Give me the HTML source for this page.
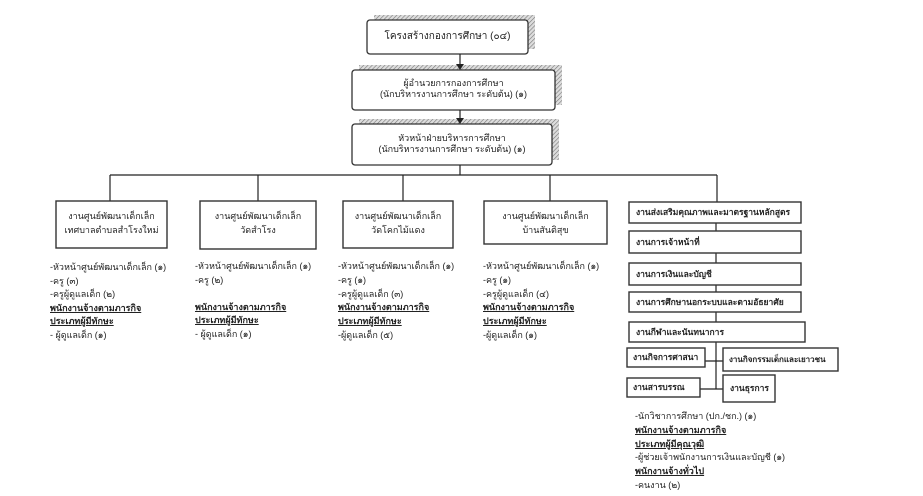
<!DOCTYPE html>
<html><head><meta charset="utf-8"><style>
body{margin:0;background:#fff;}
#c{position:relative;width:923px;height:496px;overflow:hidden;background:#fff;font-family:"Liberation Sans","Noto Sans CJK SC",sans-serif;color:#222;}
.t{position:absolute;font-size:9px;line-height:11px;white-space:nowrap;}
.c{text-align:center;}
.b{font-weight:bold;text-decoration:underline;}
.r{font-weight:bold;font-size:8.5px;}
svg{position:absolute;left:0;top:0;}
</style></head><body><div id="c">
<svg width="923" height="496">
<defs><pattern id="h" width="3" height="3" patternUnits="userSpaceOnUse" patternTransform="rotate(45)"><rect width="3" height="3" fill="#ddd"/><line x1="0" y1="0" x2="0" y2="3" stroke="#777" stroke-width="1.2"/></pattern></defs>
<g fill="url(#h)">
<rect x="374" y="15" width="161" height="34"/>
<rect x="359" y="65" width="203" height="40"/>
<rect x="359" y="119" width="200" height="41"/>
</g>
<g fill="#fff" stroke="#333" stroke-width="1.3">
<rect x="367" y="20" width="161" height="34" rx="3"/>
<rect x="352" y="70" width="203" height="40" rx="3"/>
<rect x="352" y="124" width="200" height="41" rx="3"/>
</g>
<g stroke="#222" stroke-width="1.2" fill="none">
<line x1="460" y1="54" x2="460" y2="66"/>
<line x1="460" y1="110" x2="460" y2="120"/>
<line x1="460" y1="165" x2="460" y2="175"/>
<line x1="110" y1="175" x2="717" y2="175"/>
<line x1="110" y1="175" x2="110" y2="201"/>
<line x1="258" y1="175" x2="258" y2="201"/>
<line x1="403" y1="175" x2="403" y2="201"/>
<line x1="550" y1="175" x2="550" y2="201"/>
<line x1="717" y1="175" x2="717" y2="202"/>
<line x1="716" y1="223" x2="716" y2="389"/>
<line x1="705" y1="361" x2="723" y2="361"/>
<line x1="700" y1="389" x2="723" y2="389"/>
</g>
<polygon points="456,64 464,64 460,70" fill="#222"/>
<polygon points="456,118 464,118 460,124" fill="#222"/>
<g fill="#fff" stroke="#333" stroke-width="1.4">
<rect x="56" y="201" width="111" height="47"/>
<rect x="200" y="201" width="116" height="48"/>
<rect x="343" y="201" width="110" height="47"/>
<rect x="484" y="201" width="123" height="43"/>
<rect x="629" y="202" width="172" height="21"/>
<rect x="629" y="231" width="172" height="22"/>
<rect x="629" y="263" width="172" height="22"/>
<rect x="629" y="292" width="172" height="20"/>
<rect x="629" y="322" width="176" height="20"/>
<rect x="627" y="348" width="78" height="19"/>
<rect x="723" y="348" width="115" height="23"/>
<rect x="627" y="378" width="73" height="19"/>
<rect x="723" y="375" width="52" height="27"/>
</g>
</svg>
<div class="t c" style="left:367px;top:31px;width:161px;font-size:10px">โครงสร้างกองการศึกษา (๐๔)</div>
<div class="t c" style="left:352px;top:78px;width:203px">ผู้อำนวยการกองการศึกษา<br>(นักบริหารงานการศึกษา  ระดับต้น) (๑)</div>
<div class="t c" style="left:352px;top:133px;width:200px">หัวหน้าฝ่ายบริหารการศึกษา<br>(นักบริหารงานการศึกษา  ระดับต้น) (๑)</div>

<div class="t c" style="left:56px;top:209px;width:111px;line-height:14px">งานศูนย์พัฒนาเด็กเล็ก<br>เทศบาลตำบลสำโรงใหม่</div>
<div class="t c" style="left:200px;top:209px;width:116px;line-height:14px">งานศูนย์พัฒนาเด็กเล็ก<br>วัดสำโรง</div>
<div class="t c" style="left:343px;top:209px;width:110px;line-height:14px">งานศูนย์พัฒนาเด็กเล็ก<br>วัดโคกไม้แดง</div>
<div class="t c" style="left:484px;top:209px;width:123px;line-height:14px">งานศูนย์พัฒนาเด็กเล็ก<br>บ้านสันติสุข</div>

<div class="t" style="left:50px;top:261px;line-height:13.5px">-หัวหน้าศูนย์พัฒนาเด็กเล็ก (๑)<br>-ครู  (๓)<br>-ครูผู้ดูแลเด็ก (๒)<br><span class="b">พนักงานจ้างตามภารกิจ</span><br><span class="b">ประเภทผู้มีทักษะ</span><br>- ผู้ดูแลเด็ก (๑)</div>
<div class="t" style="left:195px;top:260px;line-height:13.5px">-หัวหน้าศูนย์พัฒนาเด็กเล็ก (๑)<br>-ครู  (๒)<br>&nbsp;<br><span class="b">พนักงานจ้างตามภารกิจ</span><br><span class="b">ประเภทผู้มีทักษะ</span><br>- ผู้ดูแลเด็ก (๑)</div>
<div class="t" style="left:338px;top:260px;line-height:13.8px">-หัวหน้าศูนย์พัฒนาเด็กเล็ก (๑)<br>-ครู (๑)<br>-ครูผู้ดูแลเด็ก (๓)<br><span class="b">พนักงานจ้างตามภารกิจ</span><br><span class="b">ประเภทผู้มีทักษะ</span><br>-ผู้ดูแลเด็ก (๕)</div>
<div class="t" style="left:483px;top:260px;line-height:13.8px">-หัวหน้าศูนย์พัฒนาเด็กเล็ก (๑)<br>-ครู (๑)<br>-ครูผู้ดูแลเด็ก (๔)<br><span class="b">พนักงานจ้างตามภารกิจ</span><br><span class="b">ประเภทผู้มีทักษะ</span><br>-ผู้ดูแลเด็ก (๑)</div>

<div class="t r" style="left:636px;top:207px">งานส่งเสริมคุณภาพและมาตรฐานหลักสูตร</div>
<div class="t r" style="left:636px;top:237px">งานการเจ้าหน้าที่</div>
<div class="t r" style="left:636px;top:269px">งานการเงินและบัญชี</div>
<div class="t r" style="left:636px;top:297px">งานการศึกษานอกระบบและตามอัธยาศัย</div>
<div class="t r" style="left:636px;top:327px">งานกีฬาและนันทนาการ</div>
<div class="t r" style="left:633px;top:352px">งานกิจการศาสนา</div>
<div class="t r" style="left:729px;top:354px;font-size:8px">งานกิจกรรมเด็กและเยาวชน</div>
<div class="t r" style="left:633px;top:382px">งานสารบรรณ</div>
<div class="t r" style="left:730px;top:383px">งานธุรการ</div>

<div class="t" style="left:635px;top:410px;line-height:13.8px">-นักวิชาการศึกษา (ปก./ชก.) (๑)<br><span class="b">พนักงานจ้างตามภารกิจ</span><br><span class="b">ประเภทผู้มีคุณวุฒิ</span><br>-ผู้ช่วยเจ้าพนักงานการเงินและบัญชี  (๑)<br><span class="b">พนักงานจ้างทั่วไป</span><br>-คนงาน (๒)</div>
</div></body></html>
